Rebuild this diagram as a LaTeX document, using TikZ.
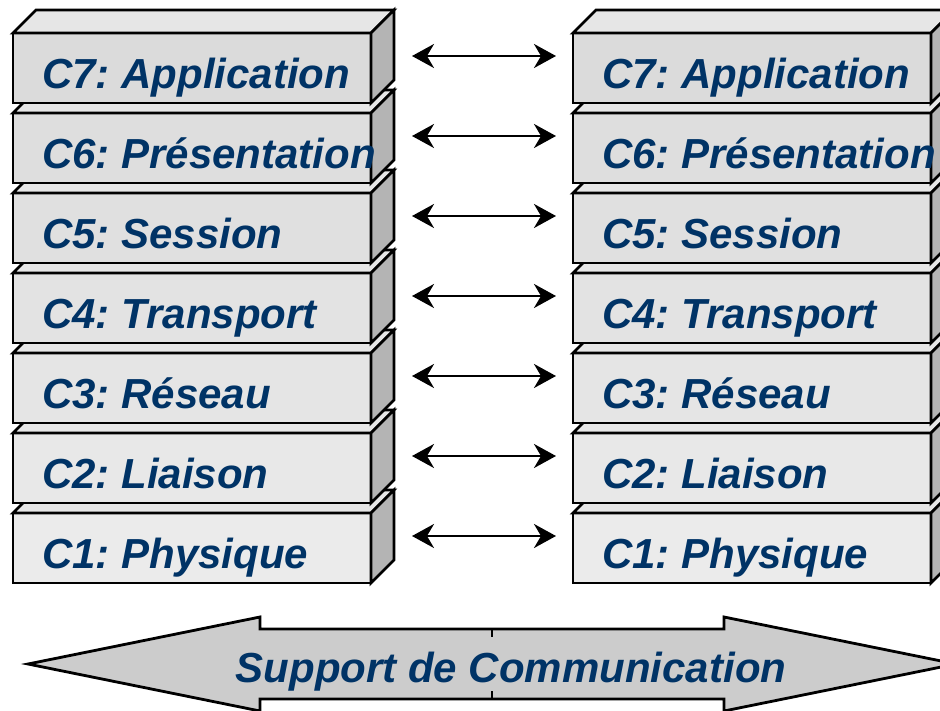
\documentclass[tikz,border=0pt]{standalone}
\usepackage{fontspec}
\setmainfont{Liberation Sans}
\usetikzlibrary{arrows.meta,calc}
\frenchspacing

\definecolor{osiblue}{RGB}{0,51,102}
\definecolor{sidegray}{RGB}{180,180,180}
\definecolor{topgray}{RGB}{230,230,230}
\definecolor{supgray}{RGB}{204,204,204}

\tikzset{
  layer/.style={draw=black, line width=2.8pt, minimum width=358pt, minimum height=70pt, inner sep=0pt, outer sep=0pt},
  face/.style={draw=black, line width=2.8pt, line join=miter},
  lbl/.style={font=\fontsize{42}{48}\selectfont\bfseries\itshape, text=osiblue, anchor=base west, inner sep=0pt},
  pair/.style={line width=2.4pt, {Stealth[length=22pt,width=24pt,inset=7pt]}-{Stealth[length=22pt,width=24pt,inset=7pt]}}
}

\begin{document}
\begin{tikzpicture}[x=1pt,y=-1pt]
\useasboundingbox (0,0) rectangle (940,710);
\clip (0,0) rectangle (940,710);

\foreach \n/\name [count=\i from 0] in {1/Physique,2/Liaison,3/Réseau,4/Transport,5/Session,6/Présentation,7/Application}{
  \pgfmathsetmacro\dk{8+\i}
  \pgfmathsetmacro\T{513-80*\i}
  % left stack
  \node[layer, fill=black!\dk] (a\n) at (192,\T+35) {};
  \draw[face, fill=topgray] (a\n.north west) -- ++(23,-23) -- ++(358,0) -- (a\n.north east) -- cycle;
  \draw[face, fill=sidegray] (a\n.north east) -- ++(23,-23) -- ++(0,70) -- (a\n.south east) -- cycle;
  \node[lbl] (ta\n) at ($(a\n.west)+(29,20)$) {C\n: \name};
  % right stack
  \node[layer, fill=black!\dk] (b\n) at (752,\T+35) {};
  \draw[face, fill=topgray] (b\n.north west) -- ++(23,-23) -- ++(358,0) -- (b\n.north east) -- cycle;
  \draw[face, fill=sidegray] (b\n.north east) -- ++(23,-23) -- ++(0,70) -- (b\n.south east) -- cycle;
  \node[lbl] (tb\n) at ($(b\n.west)+(29,20)$) {C\n: \name};
  % peer link
  \coordinate (pl\n) at ($(a\n.north east)+(41,23)$);
  \coordinate (pr\n) at ($(b\n.north west)+(-17,23)$);
  \draw[pair] (pl\n) -- (pr\n);
}

\draw[face, fill=supgray] (28,664) -- (260,617) -- (260,629) -- (724,629) -- (724,617) -- (956,664)
  -- (724,711) -- (724,699) -- (260,699) -- (260,711) -- cycle;
\draw[line width=2.8pt] (492,629) -- (492,637);
\draw[line width=2.8pt] (492,691) -- (492,699);
\node[lbl, anchor=base] (sup) at (511,682) {Support de Communication};
\end{tikzpicture}
\end{document}
